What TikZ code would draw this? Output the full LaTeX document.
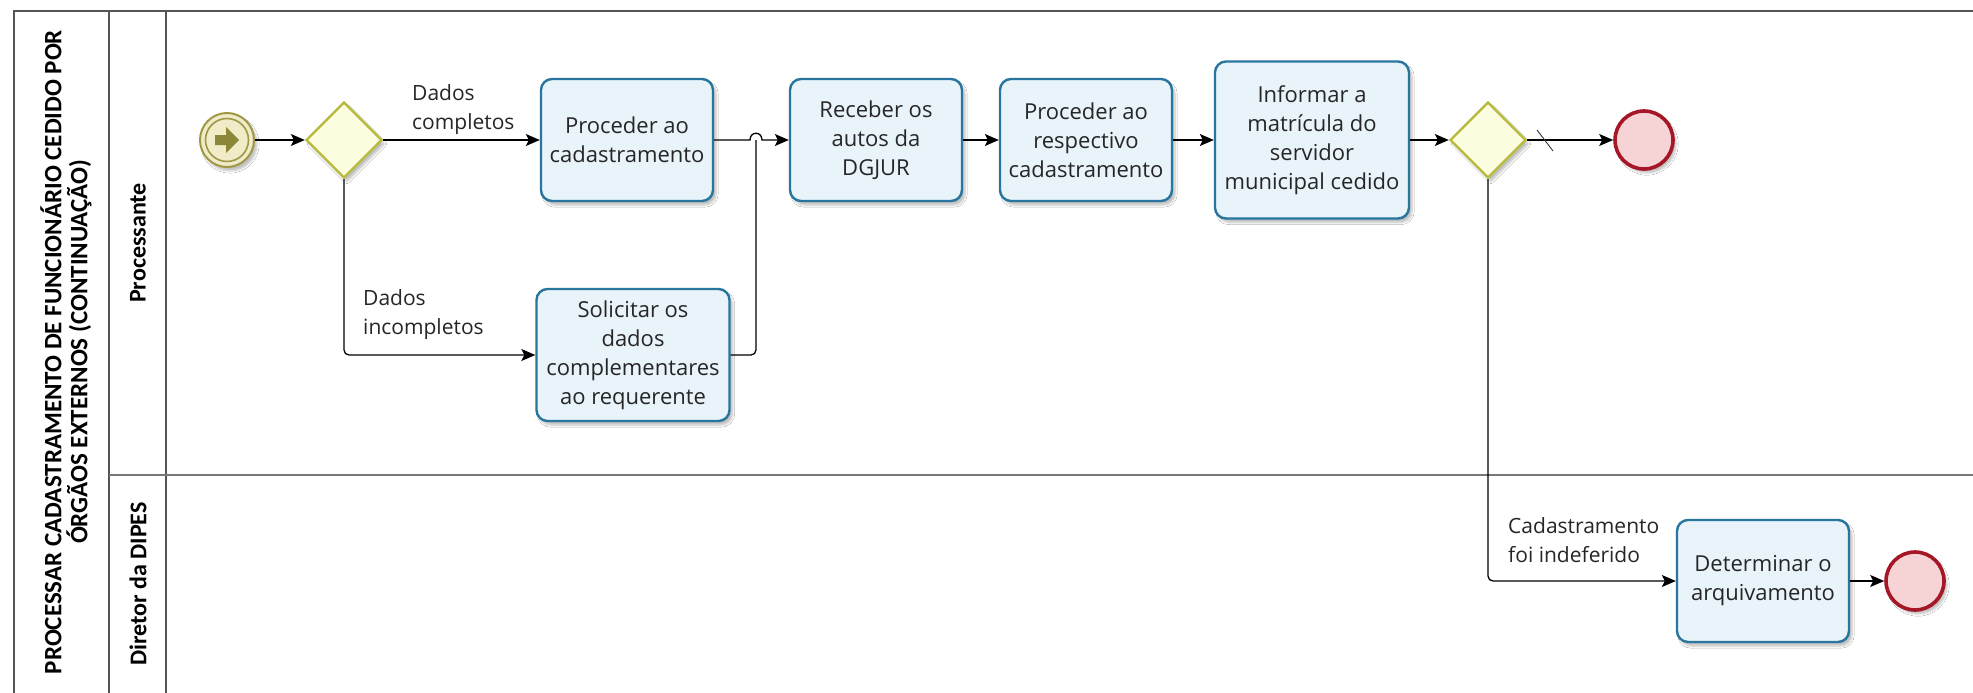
\documentclass[tikz,border=0pt]{standalone}
\usepackage{fontspec}
\setmainfont{Open Sans}
\newfontfamily\lanefont{Carlito}
\usetikzlibrary{arrows.meta,shapes.geometric,shadows.blur,calc}
\definecolor{taskborder}{RGB}{40,118,158}
\definecolor{taskfill}{RGB}{232,243,250}
\definecolor{gwborder}{RGB}{184,186,60}
\definecolor{gwfill}{RGB}{252,252,222}
\definecolor{startborder}{RGB}{160,152,70}
\definecolor{startfill}{RGB}{240,236,200}
\definecolor{startarrow}{RGB}{140,134,56}
\definecolor{endborder}{RGB}{165,22,38}
\definecolor{endfill}{RGB}{246,212,214}
\definecolor{frame}{RGB}{85,85,85}
\tikzset{
  softshadow/.style={blur shadow={shadow xshift=3pt,shadow yshift=-4pt,shadow blur steps=6,shadow opacity=25}},
  task/.style={draw=taskborder,line width=2.4pt,fill=taskfill,rounded corners=11pt,
    minimum width=172pt,minimum height=122pt,align=center,inner sep=2pt,
    font=\fontsize{22}{29}\selectfont,text=black!85,softshadow},
  gateway/.style={diamond,aspect=1,draw=gwborder,line width=2.4pt,fill=gwfill,
    minimum width=76pt,minimum height=76pt,inner sep=0pt,softshadow},
  startev/.style={circle,draw=startborder,line width=2pt,fill=startfill,minimum size=54pt,inner sep=0pt,softshadow},
  endev/.style={circle,draw=endborder,line width=3.6pt,fill=endfill,minimum size=58pt,inner sep=0pt,softshadow},
  flow/.style={draw=black,line width=1.3pt,-{Stealth[length=14pt,width=12pt,inset=3pt]}},
  plainflow/.style={draw=black,line width=1.3pt},
  flowlabel/.style={align=left,inner sep=0pt,font=\fontsize{21}{29}\selectfont,text=black!85},
  lanelabel/.style={rotate=90,align=center,font=\fontsize{24}{28}\lanefont\bfseries\selectfont},
  titlelabel/.style={rotate=90,align=center,font=\fontsize{25}{26}\lanefont\bfseries\selectfont},
  frameline/.style={draw=frame,line width=1.6pt},
  laneline/.style={draw=frame!80,line width=2.4pt}
}
\begin{document}
\begin{tikzpicture}[x=1pt,y=-1pt]
\useasboundingbox (0,0) rectangle (1973,693);
\fill[white] (0,0) rectangle (1973,693);
% pool frame
\draw[frameline] (1973,11) -- (14,11) -- (14,693);
\draw[frameline] (109,11) -- (109,693);
\draw[frameline] (166,11) -- (166,693);
\draw[laneline] (109,475) -- (1973,475);
\node[titlelabel] (title) at (66,352) {PROCESSAR CADASTRAMENTO DE FUNCIONÁRIO CEDIDO POR\\ÓRGÃOS EXTERNOS (CONTINUAÇÃO)};
\node[lanelabel] (lane1) at (138,243) {Processante};
\node[lanelabel] (lane2) at (138,584) {Diretor da DIPES};

% start event
\node[startev] (start) at (227,140) {};
\draw[startborder,line width=1.6pt] (start.center) circle[radius=21.5pt];
\fill[startarrow] ($(start.center)+(-12,-5)$) -- ++(11,0) -- ++(0,-8) -- ++(13,13) -- ++(-13,13) -- ++(0,-8) -- ++(-11,0) -- cycle;

% nodes
\node[gateway] (gw1) at (344,140) {};
\node[task] (proc1) at (627,140) {Proceder ao\\cadastramento};
\node[task,minimum width=193pt,minimum height=132pt] (solic) at (633,355) {Solicitar os\\dados\\complementares\\ao requerente};
\node[task] (recv) at (876,140) {Receber os\\autos da\\DGJUR};
\node[task] (proc2) at (1086,140) {Proceder ao\\respectivo\\cadastramento};
\node[task,minimum width=194pt,minimum height=157pt] (info) at (1312,140) {Informar a\\matrícula do\\servidor\\municipal cedido};
\node[gateway] (gw2) at (1488,140) {};
\node[endev] (end1) at (1644,140) {};
\node[task] (det) at (1763,581) {Determinar o\\arquivamento};
\node[endev] (end2) at (1915,581) {};

\coordinate (hopl) at (750,140);
\coordinate (hopr) at (762,140);
\coordinate (merge) at (756,140);

% flows
\draw[flow] (start.east) -- (gw1.west);
\draw[flow] (gw1.east) -- (proc1.west);
\draw[flow,rounded corners=5pt] (gw1.south) |- (solic.west);
\draw[flow] (proc1.east) -- (hopl) .. controls (750,131) and (762,131) .. (hopr) -- (recv.west);
\draw[plainflow,rounded corners=5pt] (solic.east) -| (merge);
\draw[flow] (recv.east) -- (proc2.west);
\draw[flow] (proc2.east) -- (info.west);
\draw[flow] (info.east) -- (gw2.west);
\draw[flow] (gw2.east) -- (end1.west);
\draw[black!80,line width=0.9pt] (1537,130) -- (1553,151);
\draw[flow,rounded corners=5pt] (gw2.south) |- (det.west);
\draw[flow] (det.east) -- (end2.west);

% labels
\node[flowlabel,anchor=west] (lblc) at (412,110) {Dados\\completos};
\node[flowlabel,anchor=west] (lbli) at (363,315) {Dados\\incompletos};
\node[flowlabel,anchor=west] (lbld) at (1508,540) {Cadastramento\\foi indeferido};
\end{tikzpicture}
\end{document}
